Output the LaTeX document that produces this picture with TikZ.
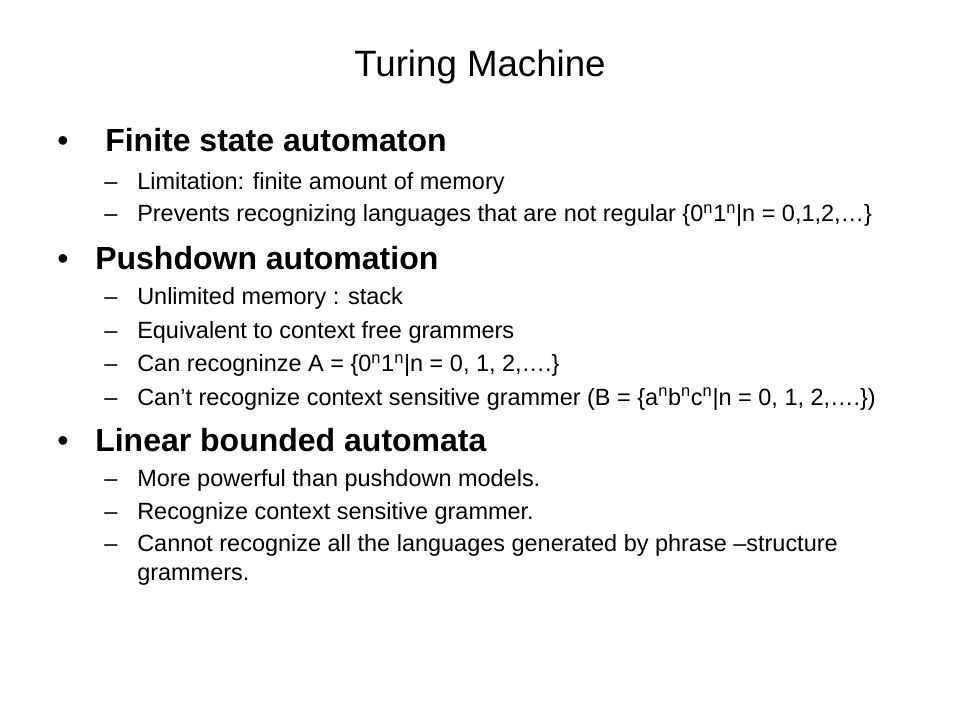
\documentclass[tikz,border=0pt]{standalone}
\usepackage{fontspec}
\setmainfont{Liberation Sans}
\usetikzlibrary{positioning}
\tikzstyle{slidetitle} = [anchor=base, inner sep=0pt, font=\fontsize{27.5}{33}\selectfont]
\tikzstyle{heading} = [anchor=base west, inner sep=0pt, font=\fontsize{24}{29}\selectfont\bfseries]
\tikzstyle{bulletmark} = [anchor=base west, inner sep=0pt, font=\fontsize{24}{29}\selectfont]
\tikzstyle{subitem} = [anchor=base west, inner sep=0pt, font=\fontsize{17.6}{21}\selectfont]
\newcommand{\sups}[1]{\textsuperscript{#1}}
\begin{document}
\begin{tikzpicture}[x=0.75pt,y=-0.75pt]
\useasboundingbox (0,0) rectangle (960,720);
\fill[white] (0,0) rectangle (960,720);
\node (title) [slidetitle] at (480,76.7) {Turing Machine};
% finite state automaton
\node (fsab) [bulletmark] at (57,151.7) {\textbullet};
\node (fsa) [heading] at (105,151.7) {Finite state automaton};
\node (fsa1d) [subitem] at (104,189.5) {–};
\node (fsa1) [subitem] at (137,189.5) {Limitation: finite amount of memory};
\node (fsa2d) [subitem] at (104,222) {–};
\node (fsa2) [subitem] at (137,222) {Prevents recognizing languages that are not regular \{0\sups{n}1\sups{n}|n = 0,1,2,…\}};
% pushdown automation
\node (pdab) [bulletmark] at (57,269.5) {\textbullet};
\node (pda) [heading] at (95,269.5) {Pushdown automation};
\node (pda1d) [subitem] at (104,305) {–};
\node (pda1) [subitem] at (137,305) {Unlimited memory : stack};
\node (pda2d) [subitem] at (104,338) {–};
\node (pda2) [subitem] at (137,338) {Equivalent to context free grammers};
\node (pda3d) [subitem] at (104,371.5) {–};
\node (pda3) [subitem] at (137,371.5) {Can recogninze A = \{0\sups{n}1\sups{n}|n = 0, 1, 2,….\}};
\node (pda4d) [subitem] at (104,405) {–};
\node (pda4) [subitem] at (137,405) {Can’t recognize context sensitive grammer (B = \{a\sups{n}b\sups{n}c\sups{n}|n = 0, 1, 2,….\})};
% linear bounded automata
\node (lbab) [bulletmark] at (57,451) {\textbullet};
\node (lba) [heading] at (95,451) {Linear bounded automata};
\node (lba1d) [subitem] at (104,486) {–};
\node (lba1) [subitem] at (137,486) {More powerful than pushdown models.};
\node (lba2d) [subitem] at (104,519) {–};
\node (lba2) [subitem] at (137,519) {Recognize context sensitive grammer.};
\node (lba3d) [subitem] at (104,551) {–};
\node (lba3) [subitem] at (137,551) {Cannot recognize all the languages generated by phrase –structure};
\node (lba3b) [subitem] at (137,580) {grammers.};
\end{tikzpicture}
\end{document}
